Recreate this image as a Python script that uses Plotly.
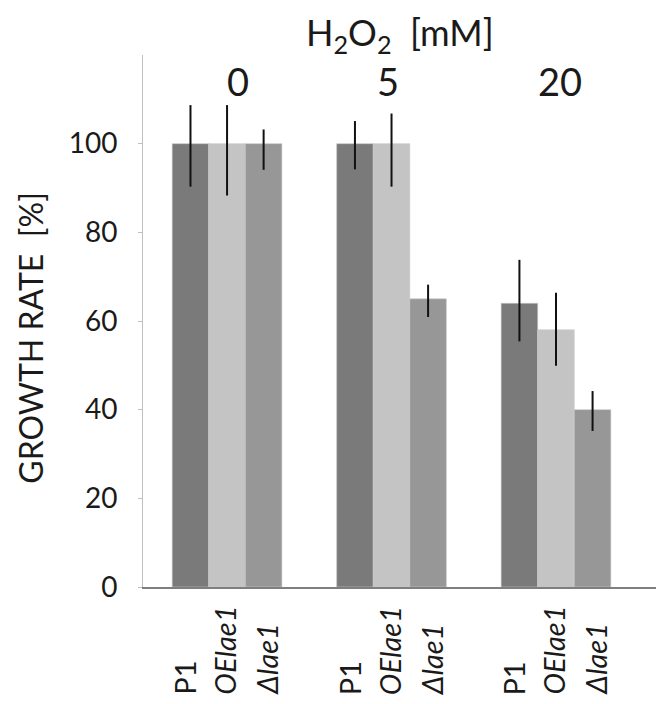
import plotly.graph_objects as go

# ---- data ----
concentrations = ["0", "5", "20"]
strains = ["P1", "OElae1", "Δlae1"]
strain_labels = ["P1", "<i>OElae1</i>", "<i>Δlae1</i>"]
p1_vals = [100, 100, 64]
p1_err_plus = [8.7, 5.1, 9.8]
p1_err_minus = [9.7, 5.8, 8.6]
oe_vals = [100, 100, 58]
oe_err_plus = [8.7, 6.8, 8.4]
oe_err_minus = [11.7, 9.7, 8.1]
dl_vals = [100, 65, 40]
dl_err_plus = [3.2, 3.2, 4.2]
dl_err_minus = [5.9, 4.1, 4.8]
y_ticks = [0, 20, 40, 60, 80, 100]

colors = ["#7a7a7a", "#c4c4c4", "#979797"]
series = [
    (p1_vals, p1_err_plus, p1_err_minus),
    (oe_vals, oe_err_plus, oe_err_minus),
    (dl_vals, dl_err_plus, dl_err_minus),
]

FONT = "Lato, 'Open Sans', sans-serif"
TXT = "#1a1a1a"
NB = "\u00a0"
xpos = list(range(len(concentrations)))

fig = go.Figure()
for (vals, ep, em), name, col in zip(series, strains, colors):
    fig.add_trace(go.Bar(
        x=xpos, y=vals, name=name,
        marker=dict(color=col, line=dict(color="rgba(200,200,200,0.6)", width=1)),
        error_y=dict(type="data", symmetric=False, array=ep, arrayminus=em,
                     color="#111111", thickness=2, width=0),
    ))

fig.update_layout(
    width=657, height=696,
    margin=dict(l=135, r=9, t=47, b=117),
    paper_bgcolor="white", plot_bgcolor="white",
    barmode="group", bargap=0.333, bargroupgap=0,
    showlegend=False,
    font=dict(family=FONT, color=TXT),
)
fig.update_xaxes(
    range=[-0.511, 2.608], showticklabels=False, showgrid=False, zeroline=False,
    showline=True, linecolor="#7f7f7f", linewidth=2, ticks="",
)
fig.update_yaxes(
    range=[0, 120], tickvals=y_ticks, showgrid=False, zeroline=False,
    showline=True, linecolor="#bfbfbf", linewidth=1,
    ticks="outside", ticklen=4, tickcolor="#bfbfbf",
    tickfont=dict(size=28, family=FONT, color=TXT), ticklabelstandoff=15,
)

annotations = []
# Title
annotations.append(dict(text="H<sub>2</sub>O<sub>2</sub>" + NB + NB + "[mM]", xref="paper", yref="paper",
                        x=0.5, y=1.088, xanchor="center", yanchor="top",
                        showarrow=False, font=dict(size=36, family=FONT, color=TXT)))
# Concentration labels
conc_shift = [11, -4, 4]
for i, c in enumerate(concentrations):
    annotations.append(dict(text=c, xref="x", yref="paper", x=xpos[i], y=0.952,
                            xanchor="center", yanchor="middle", showarrow=False,
                            xshift=conc_shift[i],
                            font=dict(size=38, family=FONT, color=TXT)))
# Strain labels
offsets = [-0.222, 0.0, 0.222]
strain_shift = [-6, -2, 3]
for i in xpos:
    for off, sh, lab in zip(offsets, strain_shift, strain_labels):
        annotations.append(dict(text=lab, xref="x", yref="paper", x=i + off, y=-0.207,
                                xanchor="center", yanchor="bottom", textangle=-90,
                                xshift=sh, showarrow=False,
                                font=dict(size=29, family=FONT, color=TXT)))
# Y title
annotations.append(dict(text="GROWTH" + NB + "RATE" + NB + NB + "[%]", xref="paper", yref="paper",
                        x=-0.221, y=0.468, xanchor="center", yanchor="middle", textangle=-90,
                        showarrow=False, font=dict(size=32, family=FONT, color=TXT)))
fig.update_layout(annotations=annotations)

fig.write_html("out.html")
